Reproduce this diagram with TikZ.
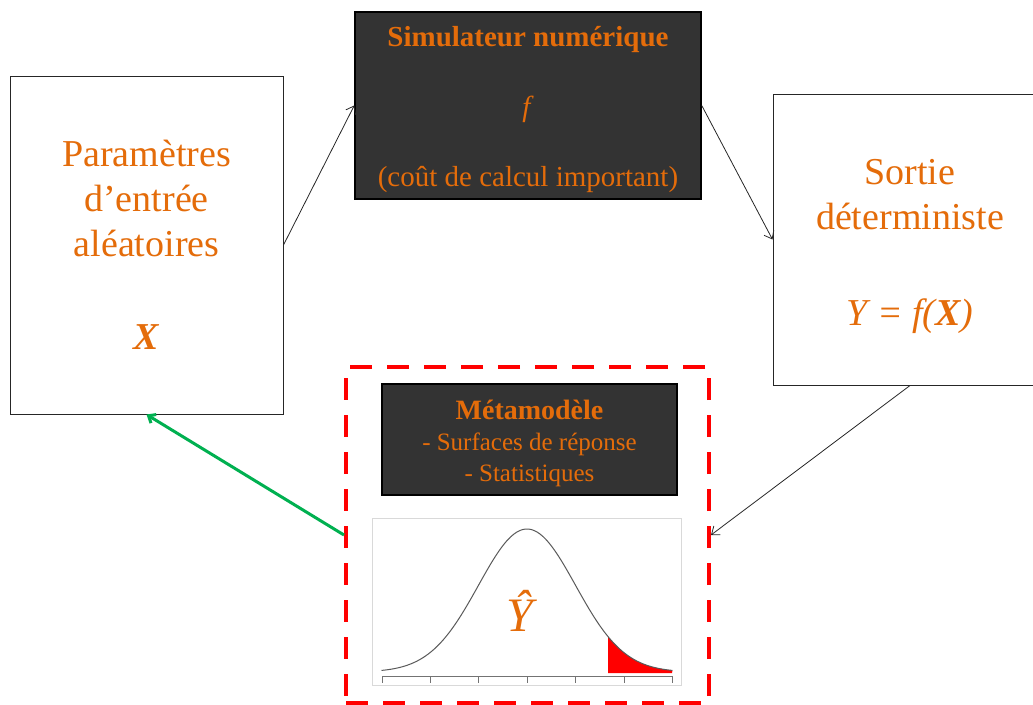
\documentclass[tikz,border=0pt]{standalone}
\usepackage{fontspec}
\setmainfont{Liberation Serif}
\usetikzlibrary{arrows.meta}
\definecolor{txtorange}{HTML}{E46C0A}
\definecolor{boxdark}{HTML}{333333}
\definecolor{arrowgreen}{HTML}{00B050}

\begin{document}
\begin{tikzpicture}[x=1pt,y=-1pt,
  whitebox/.style={draw=black!85,line width=1pt,fill=white,inner sep=0pt,align=center,text=txtorange},
  darkbox/.style={draw=black,line width=1.5pt,fill=boxdark,inner sep=0pt,align=center,text=txtorange},
  boxtext/.style={align=center,text=txtorange,inner sep=0pt},
  link/.style={-{Straight Barb[length=7pt,width=11pt]},black!85,line width=0.8pt}]
\useasboundingbox (0,0) rectangle (1033,704);
\node[whitebox,minimum width=273pt,minimum height=338pt,font=\fontsize{38}{45}\selectfont] (params) at (146.5,245)
  {Paramètres\\d’entrée\\aléatoires\\[48pt]\textbf{\textit{X}}};
\node[darkbox,minimum width=346pt,minimum height=187pt,
  label={[boxtext,yshift=-4pt,font=\fontsize{29}{32}\selectfont]center:{\textbf{Simulateur numérique}\\[38pt]\textit{f}\\[38pt](coût de calcul important)}}] (sim) at (528,105.5) {};
\node[whitebox,minimum width=274pt,minimum height=291pt,
  label={[boxtext,yshift=-7pt,font=\fontsize{38}{45}\selectfont]center:{Sortie\\déterministe\\[51pt]\textit{Y = f(\textbf{X})}}}] (sortie) at (910,239.5) {};
\node[draw=red,line width=4pt,dash pattern=on 22pt off 15pt,minimum width=363pt,minimum height=336pt] (meta) at (527.5,535) {};
\node[darkbox,minimum width=295pt,minimum height=111pt,
  label={[boxtext,yshift=-4pt,font=\fontsize{25}{31}\selectfont]center:{\textbf{\fontsize{28}{31}\selectfont Métamodèle}\\- Surfaces de réponse\\- Statistiques}}] (surr) at (529.5,439.5) {};
\draw[black!15,line width=0.8pt] (372,518) rectangle (681,685);
\fill[red] plot[domain=1.67:3,samples=30] ({527+48.5*\x},{672-143*exp(-(\x)^2/2)}) -- (672,673) -- (608,673) -- cycle;
\draw[black!65,line width=1pt] plot[domain=-3:3,samples=100,smooth] ({527+48.5*\x},{672-143*exp(-(\x)^2/2)});
\draw[black!55,line width=1pt] (382,676) -- (672,676);
\foreach \k in {0,...,6}
  \draw[black!55,line width=1pt] ({382+48.4*\k},676) -- ({382+48.4*\k},683);
\node[text=txtorange,font=\fontsize{48}{48}\selectfont\itshape] (yhat) at (520,611) {Ŷ};
\draw[link] (params.east) -- (sim.west);
\draw[link] (sim.east) -- (sortie.west);
\draw[link] (sortie.south) -- (meta.east);
\draw[-{Straight Barb[length=6pt,width=10pt]},arrowgreen,line width=3pt] (meta.west) -- (params.south);
\end{tikzpicture}
\end{document}
